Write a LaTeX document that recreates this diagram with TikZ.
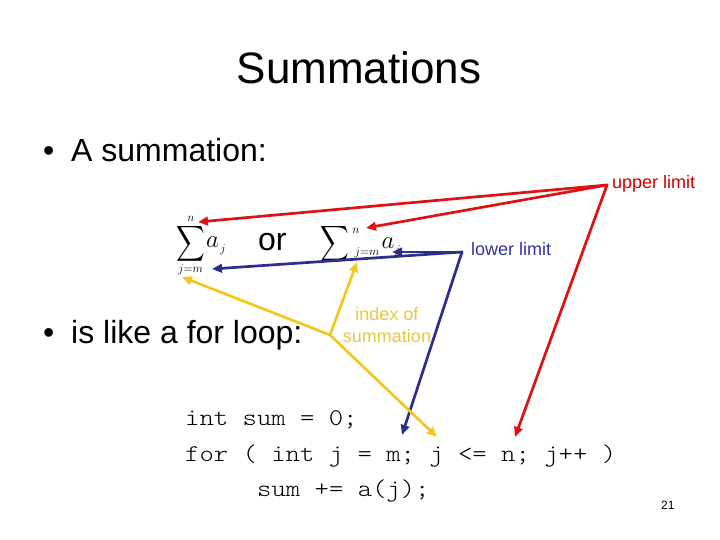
\documentclass[tikz,border=0pt]{standalone}
\usepackage{fontspec}
\usepackage{amsmath}
\usepackage{graphicx}
\setmainfont{Liberation Sans}
\newcommand{\codefont}{\fontfamily{lmtt}\fontseries{l}\fontsize{24}{28}\selectfont}
\newcommand{\codeline}[1]{\scalebox{1.14}[1]{\codefont #1}}
\usetikzlibrary{arrows.meta,calc}
\definecolor{rd}{RGB}{222,18,18}
\definecolor{rdtext}{RGB}{204,0,0}
\definecolor{bl}{RGB}{45,45,140}
\definecolor{bltext}{RGB}{51,51,153}
\definecolor{yl}{RGB}{242,200,30}
\definecolor{yltext}{RGB}{232,200,60}
\newcommand{\bigsig}{{\fontsize{23}{23}\selectfont\scalebox{0.8}[1]{$\displaystyle\sum$}}}
\newcommand{\smallm}[1]{{\fontsize{13}{13}\selectfont$#1$}}
\begin{document}
\begin{tikzpicture}[x=1pt,y=-1pt,
  txt/.style={inner sep=0pt, anchor=base west},
  mth/.style={inner sep=0pt},
  sigbox/.style={inner sep=0pt, text height=19pt, text depth=8pt},
  code/.style={inner sep=0pt, anchor=base west},
  lbl/.style={inner sep=0pt, anchor=base west, font={\fontsize{18}{22}\selectfont}},
  ptr/.style={line width=2.7pt, line cap=round, -{Triangle[length=10pt,width=8.5pt]}}]
\useasboundingbox (0,0) rectangle (720,540);
\fill[white] (0,0) rectangle (720,540);

% title
\node[inner sep=0pt, anchor=base, font={\fontsize{44}{50}\selectfont}] (title) at (359,84) {Summations};

% bullets
\node[txt, font={\fontsize{32}{36}\selectfont}] (b1) at (43,162) {•};
\node[txt, font={\fontsize{32}{36}\selectfont}] (t1) at (71,162) {A summation:};
\node[txt, font={\fontsize{32}{36}\selectfont}] (b2) at (43,343) {•};
\node[txt, font={\fontsize{32}{36}\selectfont}] (t2) at (71,343) {is like a for loop:};
\node[txt, font={\fontsize{32}{36}\selectfont}] (or) at (258,250) {or};

% formula 1
\node[sigbox] (sig1) at (190.5,245) {\bigsig};
\node[mth] (n1) at (191,218.5) {\smallm{n}};
\node[mth] (a1) at (212.5,242) {{\fontsize{25}{25}\selectfont$a$}};
\node[mth] (j1) at (223,250) {\smallm{j}};
\node[mth] (lo1) at (190.5,269.5) {\smallm{j{=}m}};

% formula 2
\node[sigbox] (sig2) at (334.5,245) {\bigsig};
\node[mth] (n2) at (356,231) {\smallm{n}};
\node[mth] (lo2) at (367,252.5) {\smallm{j{=}m}};
\node[mth] (a2) at (388,243) {{\fontsize{25}{25}\selectfont$a$}};
\node[mth] (j2) at (398,251) {\smallm{j}};

% code
\node[code] (c1) at (185,425) {\codeline{int sum = 0;}};
\node[code] (c2) at (185,461) {\codeline{for ( int j = m; j <= n; j++ )}};
\node[code] (c3) at (257,496) {\codeline{sum += a(j);}};

% labels
\node[lbl, text=rdtext] (upper) at (612,189) {upper limit};
\node[lbl, text=bltext] (lower) at (471,255) {lower limit};
\node[inner sep=0pt, align=center, text=yltext, font={\fontsize{18}{21.5}\selectfont}] (index) at (387,325) {index of\\summation};

\node[txt, font={\fontsize{12}{14}\selectfont}] (pg) at (661,509) {21};

% apex and target points
\coordinate (R) at (607,185);
\coordinate (B) at (462,252);
\coordinate (Y) at (330,335);
\coordinate (tn) at ($(c2.base west)+(330,-24)$);
\coordinate (tm) at ($(c2.base west)+(217,-26)$);
\coordinate (tj) at ($(c2.base west)+(252,-24)$);
\coordinate (tn1) at ($(n1)+(7,3.5)$);
\coordinate (tn2) at ($(n2)+(10,-3)$);
\coordinate (ta2) at ($(a2)+(4,9)$);
\coordinate (tlo1b) at ($(lo1)+(21.5,-0.5)$);
\coordinate (tlo1y) at ($(lo1)+(-8.5,7.5)$);
\coordinate (tlo2) at ($(lo2)+(-10,9.5)$);

% red
\draw[ptr, rd] (R) -- (tn1);
\draw[ptr, rd] (R) -- (tn2);
\draw[ptr, rd] (R) -- (tn);
% blue
\draw[ptr, bl] (B) -- (ta2);
\draw[ptr, bl] (B) -- (tlo1b);
\draw[ptr, bl] (B) -- (tm);
% yellow
\draw[ptr, yl] (Y) -- (tlo1y);
\draw[ptr, yl] (Y) -- (tlo2);
\draw[ptr, yl] (Y) -- (tj);
\end{tikzpicture}
\end{document}
